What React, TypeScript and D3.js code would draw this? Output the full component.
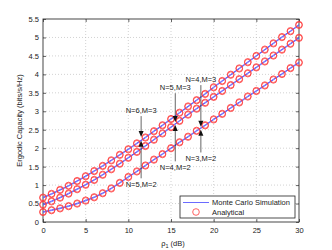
import React, { useEffect, useRef } from "react";
import * as d3 from "d3";

// SNR grid in dB
const snr = d3.range(0, 31);

// ergodic capacity (bits/s/Hz), one entry per dB
const capN6M3 = [0.67, 0.77, 0.88, 0.99, 1.12, 1.25, 1.39, 1.53, 1.68, 1.83, 1.98, 2.14, 2.3, 2.47, 2.63, 2.8, 2.97, 3.14, 3.31, 3.48, 3.66, 3.83, 4.0, 4.17, 4.34, 4.51, 4.68, 4.85, 5.02, 5.18, 5.35];
const capN5M2 = [0.65, 0.75, 0.86, 0.97, 1.1, 1.23, 1.37, 1.51, 1.66, 1.81, 1.96, 2.12, 2.28, 2.45, 2.61, 2.78, 2.95, 3.12, 3.29, 3.46, 3.64, 3.81, 3.98, 4.15, 4.32, 4.49, 4.66, 4.83, 5.0, 5.16, 5.33];
const capN5M3 = [0.48, 0.57, 0.67, 0.78, 0.9, 1.02, 1.15, 1.29, 1.44, 1.59, 1.75, 1.91, 2.07, 2.24, 2.41, 2.58, 2.75, 2.92, 3.08, 3.24, 3.4, 3.56, 3.72, 3.88, 4.04, 4.2, 4.36, 4.52, 4.68, 4.84, 5.0];
const capN4M2 = [0.46, 0.55, 0.65, 0.76, 0.88, 1.0, 1.13, 1.27, 1.42, 1.57, 1.73, 1.89, 2.05, 2.22, 2.39, 2.56, 2.73, 2.9, 3.06, 3.22, 3.38, 3.54, 3.7, 3.86, 4.02, 4.18, 4.34, 4.5, 4.66, 4.82, 4.98];
const capN4M3 = [0.28, 0.33, 0.38, 0.44, 0.51, 0.59, 0.68, 0.79, 0.92, 1.07, 1.23, 1.38, 1.54, 1.7, 1.85, 2.01, 2.17, 2.32, 2.48, 2.63, 2.79, 2.94, 3.1, 3.25, 3.41, 3.56, 3.71, 3.87, 4.02, 4.18, 4.33];
const capN3M2 = [0.26, 0.31, 0.36, 0.42, 0.49, 0.57, 0.66, 0.77, 0.9, 1.05, 1.21, 1.36, 1.52, 1.68, 1.83, 1.99, 2.15, 2.3, 2.46, 2.61, 2.77, 2.92, 3.08, 3.23, 3.39, 3.54, 3.69, 3.85, 4.0, 4.16, 4.31];

const series = [capN6M3, capN5M2, capN5M3, capN4M2, capN4M3, capN3M2];

const xTicks = [0, 5, 10, 15, 20, 25, 30];
const yTicks = [0, 0.5, 1, 1.5, 2, 2.5, 3, 3.5, 4, 4.5, 5, 5.5];

// text arrows: label, snr, where the text sits, where the arrow tip is
const notes = [
  { label: "N=6,M=3", at: 11.5, text: 2.95, tip: 2.3 },
  { label: "N=5,M=2", at: 11.5, text: 0.94, tip: 2.2 },
  { label: "N=5,M=3", at: 15.5, text: 3.57, tip: 2.71 },
  { label: "N=4,M=2", at: 15.5, text: 1.4, tip: 2.63 },
  { label: "N=4,M=3", at: 18.5, text: 3.79, tip: 2.58 },
  { label: "N=3,M=2", at: 18.5, text: 1.64, tip: 2.5 },
];

const W = 332;
const H = 250;
const font = "Liberation Sans, Arial, sans-serif";

const App: React.FC = () => {
  const ref = useRef<SVGSVGElement | null>(null);

  useEffect(() => {
    const left = 43, right = 299, top = 19, bottom = 222;
    const x = d3.scaleLinear().domain([0, 30]).range([left, right]);
    const y = d3.scaleLinear().domain([0, 5.5]).range([bottom, top]);

    const svg = d3.select(ref.current);
    svg.selectAll("*").remove();

    svg.append("rect").attr("width", W).attr("height", H).attr("fill", "#fff");

    // grid
    const grid = svg.append("g").attr("stroke", "#b4b4b4").attr("stroke-width", 0.6).attr("stroke-dasharray", "1,2");
    xTicks.slice(1, -1).forEach((t) => {
      grid.append("line").attr("x1", x(t)).attr("x2", x(t)).attr("y1", top).attr("y2", bottom);
    });
    yTicks.slice(1, -1).forEach((t) => {
      grid.append("line").attr("x1", left).attr("x2", right).attr("y1", y(t)).attr("y2", y(t));
    });

    // axes, ticks inward on all four sides
    const tickSize = 3;
    const axStyle = (g: any) => {
      g.select(".domain").remove();
      g.selectAll("line").attr("stroke", "#222").attr("stroke-width", 0.7);
      g.selectAll("text").attr("font-family", font).attr("font-size", 7.5).attr("fill", "#222");
    };
    svg.append("g").attr("transform", `translate(0,${bottom})`)
      .call(d3.axisBottom(x).tickValues(xTicks).tickSize(-tickSize).tickPadding(6).tickFormat(d3.format("d")) as any)
      .call(axStyle);
    svg.append("g").attr("transform", `translate(${left},0)`)
      .call(d3.axisLeft(y).tickValues(yTicks).tickSize(-tickSize).tickPadding(4).tickFormat((d: any) => String(d)) as any)
      .call(axStyle);
    svg.append("g").attr("transform", `translate(0,${top})`)
      .call(d3.axisTop(x).tickValues(xTicks).tickSize(-tickSize).tickFormat(() => "") as any)
      .call(axStyle);
    svg.append("g").attr("transform", `translate(${right},0)`)
      .call(d3.axisRight(y).tickValues(yTicks).tickSize(-tickSize).tickFormat(() => "") as any)
      .call(axStyle);

    svg.append("rect").attr("x", left).attr("y", top).attr("width", right - left).attr("height", bottom - top)
      .attr("fill", "none").attr("stroke", "#333").attr("stroke-width", 0.9);

    // simulation lines
    const line = d3.line<number>().x((_, i) => x(snr[i])).y((d) => y(d));
    series.forEach((s) => {
      svg.append("path").attr("d", line(s)!).attr("fill", "none").attr("stroke", "#5a5aff").attr("stroke-width", 0.9);
    });

    // analytical markers
    series.forEach((s) => {
      svg.append("g").selectAll("circle").data(s).enter().append("circle")
        .attr("cx", (_, i) => x(snr[i])).attr("cy", (d) => y(d)).attr("r", 3.3)
        .attr("fill", "none").attr("stroke", "#ff3a3a").attr("stroke-width", 0.8);
    });

    // text arrows
    notes.forEach((n) => {
      const ax = x(n.at);
      const ty = y(n.text);
      const tip = y(n.tip);
      const down = ty < tip;
      const tail = down ? ty + 3 : ty - 9;
      const head = 6;
      const base = down ? tip - head : tip + head;
      svg.append("line").attr("x1", ax).attr("x2", ax).attr("y1", tail).attr("y2", base)
        .attr("stroke", "#222").attr("stroke-width", 0.7);
      svg.append("path").attr("d", `M${ax},${tip}L${ax - 2.5},${base}L${ax + 2.5},${base}Z`).attr("fill", "#111");
      svg.append("text").attr("x", ax).attr("y", ty).attr("text-anchor", "middle")
        .attr("font-family", font).attr("font-size", 7.5).attr("fill", "#222").text(n.label);
    });

    // legend
    const lg = svg.append("g").attr("font-family", font).attr("font-size", 7.5).attr("fill", "#222");
    lg.append("rect").attr("x", 180).attr("y", 196).attr("width", 115).attr("height", 22)
      .attr("fill", "#fff").attr("stroke", "#222").attr("stroke-width", 0.8);
    lg.append("line").attr("x1", 183).attr("x2", 209).attr("y1", 202.5).attr("y2", 202.5)
      .attr("stroke", "#5a5aff").attr("stroke-width", 0.9);
    lg.append("text").attr("x", 212).attr("y", 205).text("Monte Carlo Simulation");
    lg.append("circle").attr("cx", 196).attr("cy", 212).attr("r", 3.3)
      .attr("fill", "none").attr("stroke", "#ff3a3a").attr("stroke-width", 0.8);
    lg.append("text").attr("x", 212).attr("y", 214.5).text("Analytical");

    // axis titles
    svg.append("text").attr("transform", `translate(22,${(top + bottom) / 2}) rotate(-90)`)
      .attr("text-anchor", "middle").attr("font-family", font).attr("font-size", 7.5).attr("fill", "#222")
      .text("Ergodic Capacity (bits/s/Hz)");
    const xl = svg.append("text").attr("x", (left + right) / 2 + 2).attr("y", 246).attr("text-anchor", "middle")
      .attr("font-family", font).attr("font-size", 7.5).attr("fill", "#222");
    xl.append("tspan").text("ρ");
    xl.append("tspan").attr("dy", 2).attr("font-size", 5.5).text("1");
    xl.append("tspan").attr("dy", -2).text(" (dB)");
  }, []);

  return <svg ref={ref} width={W} height={H} style={{ position: "absolute", left: 0, top: 0 }} />;
};

export default App;
